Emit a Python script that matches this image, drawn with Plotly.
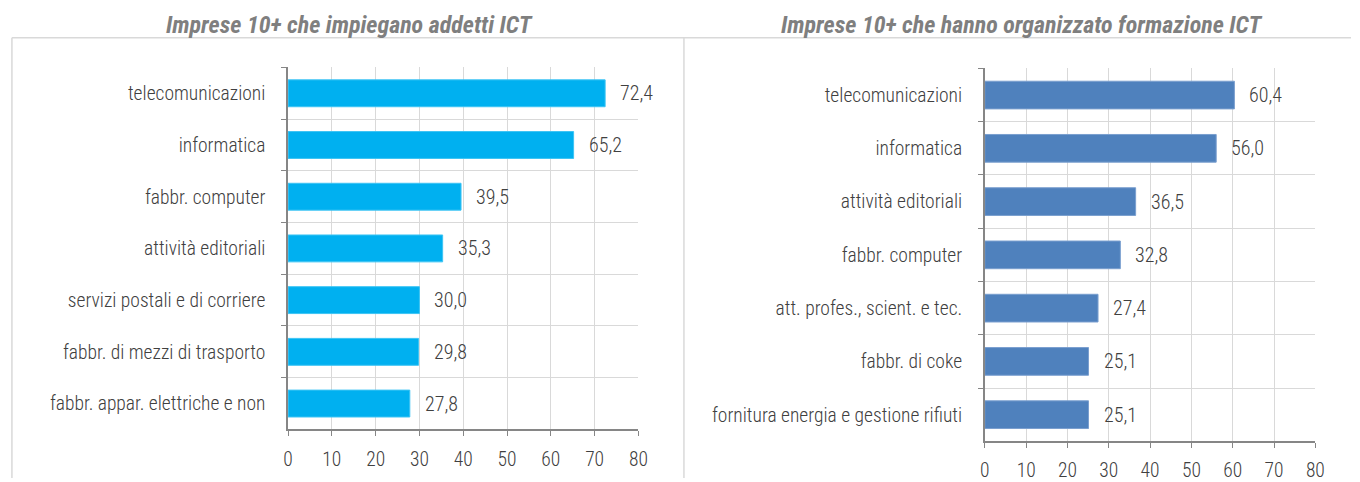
import plotly.graph_objects as go

W, H = 1360, 482

# left panel: imprese che impiegano addetti ICT
left_title = "Imprese 10+ che impiegano addetti ICT"
left_cats = ["telecomunicazioni", "informatica", "fabbr. computer", "attività editoriali",
             "servizi postali e di corriere", "fabbr. di mezzi di trasporto",
             "fabbr. appar. elettriche e non"]
left_vals = [72.4, 65.2, 39.5, 35.3, 30.0, 29.8, 27.8]

# right panel: imprese che hanno organizzato formazione ICT
right_title = "Imprese 10+ che hanno organizzato formazione ICT"
right_cats = ["telecomunicazioni", "informatica", "attività editoriali", "fabbr. computer",
              "att. profes., scient. e tec.", "fabbr. di coke",
              "fornitura energia e gestione rifiuti"]
right_vals = [60.4, 56.0, 36.5, 32.8, 27.4, 25.1, 25.1]

x_ticks = [0, 10, 20, 30, 40, 50, 60, 70, 80]

FONT = "Liberation Sans Narrow, Arial Narrow, Roboto Condensed, Liberation Sans, sans-serif"
TXT = "#404040"
GRID = "#d9d9d9"
AXIS = "#868686"

fig = go.Figure()
fig.add_trace(go.Bar(x=left_vals, y=left_cats, orientation="h", marker_color="#00b0f0",
                     marker_line=dict(color="#3cc4f4", width=1), xaxis="x", yaxis="y",
                     hoverinfo="x+y"))
fig.add_trace(go.Bar(x=right_vals, y=right_cats, orientation="h", marker_color="#4f81bd",
                     marker_line=dict(color="#7a9fcf", width=1), xaxis="x2", yaxis="y2",
                     hoverinfo="x+y"))

label_font = dict(family=FONT, size=20, color=TXT, weight=300)
annotations = []
for v, c in zip(left_vals, left_cats):
    annotations.append(dict(x=v, y=c, xref="x", yref="y", text=f"{v:.1f}".replace(".", ","),
                            showarrow=False, xanchor="left", xshift=13, font=label_font))
for v, c in zip(right_vals, right_cats):
    annotations.append(dict(x=v, y=c, xref="x2", yref="y2", text=f"{v:.1f}".replace(".", ","),
                            showarrow=False, xanchor="left", xshift=13, font=label_font))

title_font = dict(family=FONT, size=24, color="#7f7f7f")
annotations.append(dict(x=348 / W, y=1 - 25 / H, xref="paper", yref="paper",
                        text=f"<b><i>{left_title}</i></b>", showarrow=False,
                        xanchor="center", yanchor="middle", font=title_font))
annotations.append(dict(x=1028 / W, y=1 - 25 / H, xref="paper", yref="paper",
                        text=f"<b><i>{right_title}</i></b>", showarrow=False,
                        xanchor="center", yanchor="middle", font=title_font))

tick_font = dict(family=FONT, size=19.5, color=TXT, weight=300)
xaxis_common = dict(range=[0, 80], tickvals=x_ticks, showgrid=True, gridcolor=GRID,
                    showline=True, linecolor=AXIS, linewidth=1.5, ticks="outside",
                    ticklen=5, tickcolor=AXIS, zeroline=False, ticklabelstandoff=6,
                    tickfont=tick_font)
yaxis_common = dict(autorange="reversed", showgrid=True, gridcolor=GRID, showline=True,
                    linecolor=AXIS, linewidth=1.5, ticks="outside", ticklen=5,
                    tickcolor=AXIS, tickson="boundaries", ticklabelstandoff=17,
                    tickfont=tick_font)

# panel frames
line = dict(color=GRID, width=1.5)
shapes = [
    dict(type="line", xref="paper", yref="paper", x0=7 / W, x1=1, y0=1 - 38 / H, y1=1 - 38 / H, line=line),
    dict(type="line", xref="paper", yref="paper", x0=7 / W, x1=7 / W, y0=0, y1=1 - 38 / H, line=line),
    dict(type="line", xref="paper", yref="paper", x0=686 / W, x1=686 / W, y0=0, y1=1 - 38 / H, line=line),
]

fig.update_layout(
    width=W, height=H, autosize=False,
    margin=dict(l=0, r=0, t=0, b=0),
    paper_bgcolor="white", plot_bgcolor="white",
    showlegend=False, bargap=0.48,
    separators=",.",
    xaxis=dict(domain=[286 / W, 640 / W], anchor="y", **xaxis_common),
    yaxis=dict(domain=[1 - 433 / H, 1 - 68 / H], anchor="x", **yaxis_common),
    xaxis2=dict(domain=[990 / W, 1324 / W], anchor="y2", **xaxis_common),
    yaxis2=dict(domain=[1 - 445 / H, 1 - 69 / H], anchor="x2", **yaxis_common),
    annotations=annotations,
    shapes=shapes,
)

# fixed-size figure at the window's corner, no page margin or scrollbars
fig.write_html("out.html", config={"displayModeBar": False, "responsive": False},
               default_width=f"{W}px", default_height=f"{H}px",
               post_script="document.documentElement.style.overflow='hidden';"
                           "document.body.style.margin='0';")
